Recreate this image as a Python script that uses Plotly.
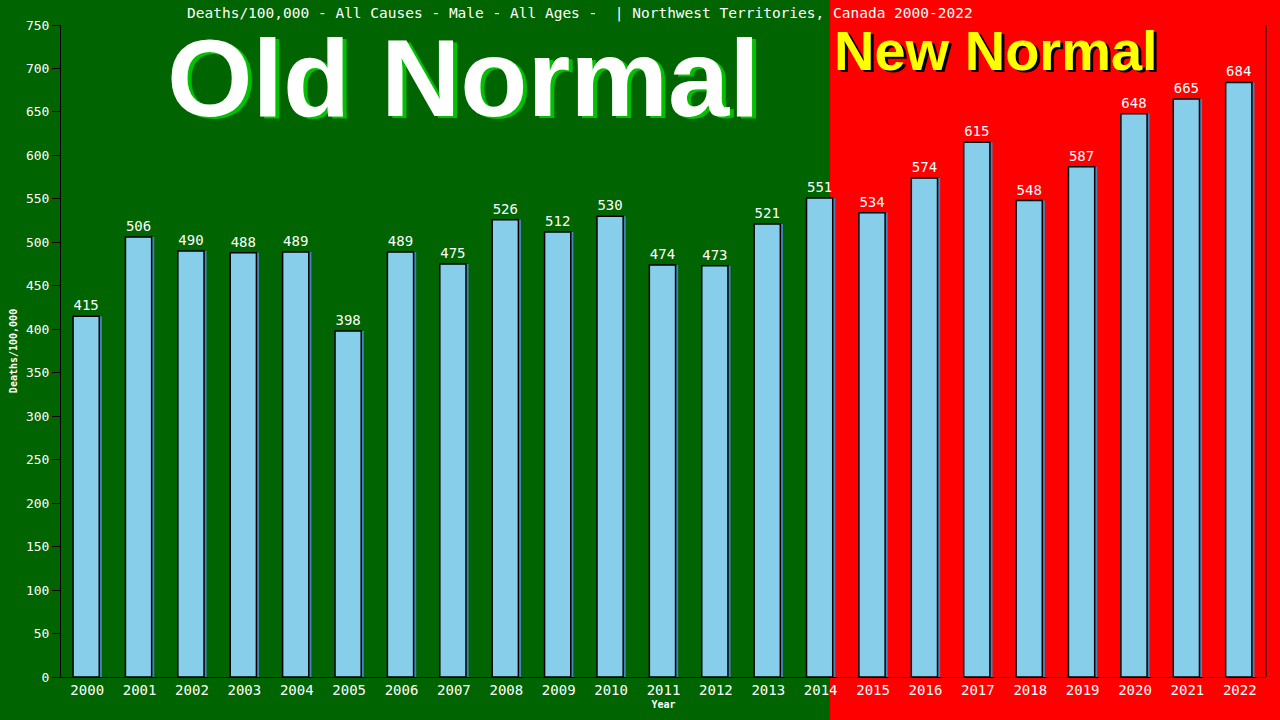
import plotly.graph_objects as go

years = [str(y) for y in range(2000, 2023)]
deaths = [415, 506, 490, 488, 489, 398, 489, 475, 526, 512, 530, 474, 473,
          521, 551, 534, 574, 615, 548, 587, 648, 665, 684]
y_ticks = list(range(0, 751, 50))

title_text = "Deaths/100,000 - All Causes - Male - All Ages -  | Northwest Territories, Canada 2000-2022"
mono = "DejaVu Sans Mono"

# plot area in pixels: left 61, right 1266, top 25, bottom 677
L, R, T, B = 61, 1266, 25, 677
pw, ph = R - L, B - T


def px_x(x):
    return (x - L) / pw


def px_y(y):
    return (B - y) / ph


def label(text, x, y, size, color, family="Liberation Sans"):
    return dict(text=text, xref="paper", yref="paper",
                x=px_x(x), y=px_y(y), xanchor="center", yanchor="middle",
                showarrow=False, font=dict(family=family, size=size, color=color))


fig = go.Figure()

# shadow bar (steelblue strip up/right of each bar)
fig.add_trace(go.Bar(
    x=years, y=deaths,
    marker=dict(color="#4682b4", line=dict(width=0)),
    width=0.5, offset=-0.22,
    hoverinfo="skip", showlegend=False,
))

fig.add_trace(go.Bar(
    x=years, y=deaths,
    marker=dict(color="#87ceeb", line=dict(color="black", width=1.5)),
    width=0.5, offset=-0.27,
    text=[str(v) for v in deaths],
    textposition="outside",
    textfont=dict(family=mono, size=14, color="white"),
    cliponaxis=False,
    showlegend=False,
))

shapes = [
    # red "new normal" zone
    dict(type="rect", xref="paper", yref="paper",
         x0=px_x(830), x1=px_x(1285), y0=px_y(725), y1=px_y(-5),
         fillcolor="#ff0000", line=dict(width=0), layer="below"),
    # right frame line
    dict(type="line", xref="paper", yref="paper",
         x0=px_x(1266), x1=px_x(1266), y0=0, y1=1,
         line=dict(color="black", width=1)),
]

annotations = [
    label(title_text, 580, 13, 14.5, "white", mono),
    # Old Normal with green shadow
    label("<b>Old Normal</b>", 467, 80, 110, "#00c000"),
    label("<b>Old Normal</b>", 463, 78, 110, "white"),
    # New Normal with black shadow
    label("<b>New Normal</b>", 999, 53, 56, "black"),
    label("<b>New Normal</b>", 996, 50, 56, "#ffff00"),
]

fig.update_layout(
    width=1280, height=720,
    margin=dict(l=L, r=1280 - R, t=T, b=720 - B),
    paper_bgcolor="#006400",
    plot_bgcolor="rgba(0,0,0,0)",
    barmode="overlay",
    shapes=shapes,
    annotations=annotations,
    xaxis=dict(
        type="category", range=[-0.5, 22.5],
        showgrid=False, showline=True, linecolor="black", linewidth=1,
        ticks="", tickfont=dict(family=mono, size=14, color="white"),
        title=dict(text="<b>Year</b>", font=dict(family=mono, size=10, color="white"),
                   standoff=4),
    ),
    yaxis=dict(
        range=[0, 750], tickvals=y_ticks,
        showgrid=False, zeroline=False,
        showline=True, linecolor="black", linewidth=1,
        ticks="outside", ticklen=8, tickcolor="black",
        tickfont=dict(family=mono, size=13, color="white"),
        title=dict(text="<b>Deaths/100,000</b>", font=dict(family=mono, size=10, color="white"),
                   standoff=6),
    ),
    bargap=0.5,
)

fig.write_html("out.html", config={"displayModeBar": False},
               post_script="document.body.style.margin='0';")
